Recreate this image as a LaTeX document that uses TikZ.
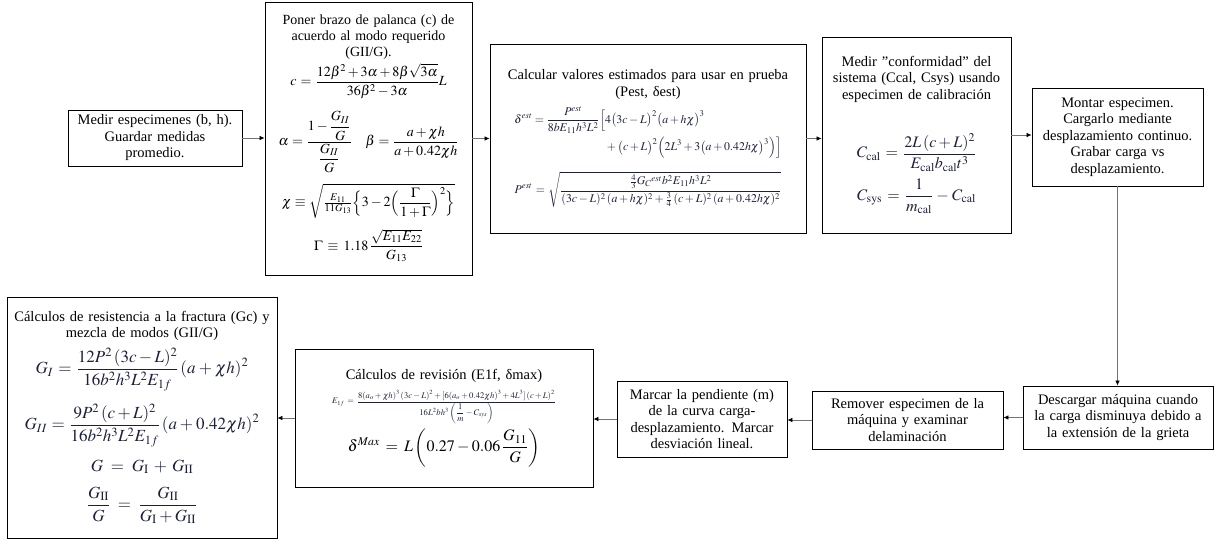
\documentclass[tikz,border=0pt]{standalone}
\usepackage{amsmath,amssymb}
\usepackage{mathptmx}
\usepackage[no-math]{fontspec}
\setmainfont{Liberation Serif}
\usepackage{xcolor}
\usepackage{tikz}
\usetikzlibrary{arrows.meta,positioning,calc}
\definecolor{formula}{RGB}{28,32,58}

\begin{document}
\begin{tikzpicture}[x=1pt, y=-1pt]
  % Flujo de ensayo de flexion de modo mixto
  \tikzstyle{stepbox} = [rectangle, draw=black, line width=0.9pt, align=center, inner sep=2pt, font=\rmfamily\fontsize{14.5}{16.5}\selectfont]
  \tikzstyle{link} = [draw=black!55, line width=0.7pt, -{Latex[black, length=5pt, width=4.5pt]}]
  \useasboundingbox (0,0) rectangle (1215,540);

  % Fila superior
  \node[stepbox, text width=170, minimum height=56] (medir) at (155,138) {Medir especimenes (b, h).\\ Guardar medidas\\ promedio.};

  \node[stepbox, text width=203, minimum height=273, font=\rmfamily\fontsize{14}{16}\selectfont] (brazo) at (368.5,138.5) {Poner brazo de palanca (c) de\\ acuerdo al modo requerido\\ (GII/G).\\[3pt]
    $\displaystyle c=\frac{12\beta^2+3\alpha+8\beta\sqrt{3\alpha}}{36\beta^2-3\alpha}L$\\[12pt]
    $\displaystyle \alpha=\frac{1-\dfrac{G_{II}}{G}}{\dfrac{G_{II}}{G}}\quad \beta=\frac{a+\chi h}{a+0.42\chi h}$\\[10pt]
    $\displaystyle \chi\equiv\sqrt{\tfrac{E_{11}}{11G_{13}}\Big\{3-2\Big(\frac{\Gamma}{1+\Gamma}\Big)^{2}\Big\}}$\\[10pt]
    $\displaystyle \Gamma\equiv 1.18\,\frac{\sqrt{E_{11}E_{22}}}{G_{13}}$};

  \node[stepbox, text width=312, minimum height=189] (estimar) at (648,138.5) {Calcular valores estimados para usar en prueba\\ (Pest, δest)\\[6pt]
    {\color{formula}\fontsize{11.8}{14}\selectfont
    $\displaystyle \begin{aligned}\delta^{est}=\frac{P^{est}}{8bE_{11}h^3L^2}\Big[&4\big(3c-L\big)^2\big(a+h\chi\big)^3\\ &{}+\big(c+L\big)^2\Big(2L^3+3\big(a+0.42h\chi\big)^3\Big)\Big]\end{aligned}$\\[12pt]
    $\displaystyle P^{est}=\sqrt{\frac{\frac{4}{3}G_C{}^{est}b^2E_{11}h^3L^2}{(3c-L)^2\,(a+h\chi)^2+\frac{3}{4}\,(c+L)^2\,(a+0.42h\chi)^2}}$}};

  \node[stepbox, text width=185, minimum height=196] (conformidad) at (916.5,135) {Medir "conformidad" del\\ sistema (Ccal, Csys) usando\\ especimen de calibración\\[30pt]
    {\color{formula}\fontsize{16}{19}\selectfont
    $\displaystyle C_{\mathrm{cal}}=\frac{2L\,(c+L)^2}{E_{\mathrm{cal}}b_{\mathrm{cal}}t^3}$\\[6pt]
    $\displaystyle C_{\mathrm{sys}}=\frac{1}{m_{\mathrm{cal}}}-C_{\mathrm{cal}}$}\\[10pt]};

  \node[stepbox, text width=167, minimum height=98] (montar) at (1117.5,137) {Montar especimen.\\ Cargarlo mediante\\ desplazamiento continuo.\\ Grabar carga vs\\ desplazamiento.};

  % Fila inferior
  \node[stepbox, text width=186, minimum height=63] (descargar) at (1118,417.5) {Descargar máquina cuando\\ la carga disminuya debido a\\ la extensión de la grieta};

  \node[stepbox, text width=187, minimum height=58] (remover) at (907.5,420) {Remover especimen de la\\ máquina y examinar\\ delaminación};

  \node[stepbox, text width=166, minimum height=76] (marcar) at (702,419) {Marcar la pendiente (m)\\ de la curva carga-\\ desplazamiento. Marcar\\ desviación lineal.};

  \node[stepbox, text width=294, minimum height=138] (revision) at (444,418) {Cálculos de revisión (E1f, δmax)\\[8pt]
    {\color{formula}\fontsize{8.6}{10}\selectfont
    $\displaystyle E_{1f}=\frac{8(a_o+\chi h)^3\,(3c-L)^2+[6(a_o+0.42\chi h)^3+4L^3]\,(c+L)^2}{16L^2bh^3\left(\dfrac{1}{m}-C_{sys}\right)}$}\\[4pt]
    {\fontsize{16}{19}\selectfont $\displaystyle \delta^{Max}=L\left(0.27-0.06\,\frac{G_{11}}{G}\right)$}};

  \node[stepbox, text width=266, minimum height=241] (resistencia) at (142,417.5) {Cálculos de resistencia a la fractura (Gc) y\\ mezcla de modos (GII/G)\\[6pt]
    {\color{formula}\fontsize{17}{20}\selectfont
    $\displaystyle G_I=\frac{12P^2\,(3c-L)^2}{16b^2h^3L^2E_{1f}}\,(a+\chi h)^2$\\[12pt]
    $\displaystyle G_{II}=\frac{9P^2\,(c+L)^2}{16b^2h^3L^2E_{1f}}\,(a+0.42\chi h)^2$\\[12pt]
    $G=G_{\mathrm{I}}+G_{\mathrm{II}}$\\[12pt]
    $\displaystyle \frac{G_{\mathrm{II}}}{G}=\frac{G_{\mathrm{II}}}{G_{\mathrm{I}}+G_{\mathrm{II}}}$}};

  % Conexiones
  \draw[link] (medir.east) -- (medir.east -| brazo.west);
  \draw[link] (brazo.east) -- (brazo.east -| estimar.west);
  \draw[link] (estimar.east) -- (estimar.east -| conformidad.west);
  \draw[link] (conformidad.east) -- (conformidad.east -| montar.west);
  \draw[link] (montar.south) -- (montar.south |- descargar.north);
  \draw[link] (descargar.west) -- (descargar.west -| remover.east);
  \draw[link] (remover.west) -- (remover.west -| marcar.east);
  \draw[link] (marcar.west) -- (marcar.west -| revision.east);
  \draw[link] (revision.west) -- (revision.west -| resistencia.east);

\end{tikzpicture}
\end{document}
